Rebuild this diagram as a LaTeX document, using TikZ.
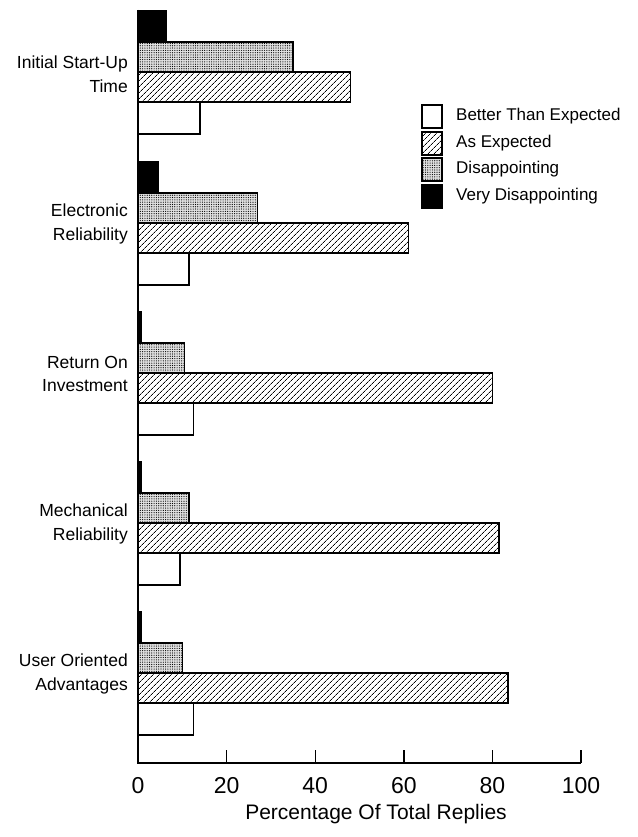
\documentclass[tikz,border=0pt]{standalone}
\usepackage{fontspec}
\setmainfont{Liberation Sans}
\usetikzlibrary{patterns.meta}
\tikzstyle{bar} = [draw, line width=1.3pt]
\tikzstyle{better} = [bar, fill=white]
\tikzstyle{asexp} = [bar, pattern={Lines[angle=45,distance=4pt,line width=0.8pt]}]
\tikzstyle{disap} = [bar, preaction={fill=black!12}, pattern={Dots[distance=2.3pt,radius=0.6pt]}]
\tikzstyle{verydis} = [bar, fill=black]
\tikzstyle{catlabel} = [anchor=east, align=right, inner sep=0pt, font=\fontsize{17.5}{23.5}\selectfont]
\tikzstyle{legtext} = [anchor=west, inner sep=0pt, font=\fontsize{17}{20}\selectfont]
\tikzstyle{ticklabel} = [inner sep=0pt, font=\fontsize{23}{26}\selectfont]

\begin{document}
\begin{tikzpicture}[x=1pt,y=-1pt]
	\useasboundingbox (0,0) rectangle (637,837);
	% bars, x in percent
	\begin{scope}[shift={(138,0)},x=4.43pt]
	\draw[verydis] (0,11) rectangle (6.5,42);
	\draw[disap] (0,42) rectangle (35,72);
	\draw[asexp] (0,72) rectangle (48,102);
	\draw[better] (0,102) rectangle (14,134);
	\draw[verydis] (0,162) rectangle (4.7,193);
	\draw[disap] (0,193) rectangle (27,223);
	\draw[asexp] (0,223) rectangle (61,253);
	\draw[better] (0,253) rectangle (11.5,285);
	\draw[verydis] (0,312) rectangle (0.8,343);
	\draw[disap] (0,343) rectangle (10.5,373);
	\draw[asexp] (0,373) rectangle (80,403);
	\draw[better] (0,403) rectangle (12.5,435);
	\draw[verydis] (0,462) rectangle (0.8,493);
	\draw[disap] (0,493) rectangle (11.5,523);
	\draw[asexp] (0,523) rectangle (81.5,553);
	\draw[better] (0,553) rectangle (9.5,585);
	\draw[verydis] (0,612) rectangle (0.8,643);
	\draw[disap] (0,643) rectangle (10,673);
	\draw[asexp] (0,673) rectangle (83.5,703);
	\draw[better] (0,703) rectangle (12.5,735);
	\end{scope}
	% axes
	\draw[line width=1.6pt] (138,10) -- (138,763) -- (581,763);
	\draw[line width=1.4pt] (226.6,763) -- ++(0,-13);
	\draw[line width=1.4pt] (315.2,763) -- ++(0,-13);
	\draw[line width=1.4pt] (403.8,763) -- ++(0,-13);
	\draw[line width=1.4pt] (492.4,763) -- ++(0,-13);
	\draw[line width=1.4pt] (581,763) -- ++(0,-13);
	\node[ticklabel] (t0) at (138,786) {0};
	\node[ticklabel] (t20) at (226.6,786) {20};
	\node[ticklabel] (t40) at (315.2,786) {40};
	\node[ticklabel] (t60) at (403.8,786) {60};
	\node[ticklabel] (t80) at (492.4,786) {80};
	\node[ticklabel] (t100) at (581,786) {100};
	\node[anchor=base, inner sep=0pt, font=\fontsize{21}{24}\selectfont] (xtitle) at (376,819) {Percentage Of Total Replies};
	% categories
	\node[catlabel] (initial) at (128,74) {Initial Start-Up\\Time};
	\node[catlabel] (electronic) at (128,224) {Electronic\\Reliability};
	\node[catlabel] (return) at (128,374) {Return On\\Investment};
	\node[catlabel] (mechanical) at (128,524) {Mechanical\\Reliability};
	\node[catlabel] (user) at (128,674) {User Oriented\\Advantages};
	% legend
	\draw[better] (422,105) rectangle (442,128);
	\draw[asexp] (422,132) rectangle (442,155);
	\draw[disap] (422,158) rectangle (442,181);
	\draw[verydis] (422,185) rectangle (442,208);
	\node[legtext] (lbetter) at (456,116.5) {Better Than Expected};
	\node[legtext] (lasexp) at (456,143.5) {As Expected};
	\node[legtext] (ldisap) at (456,169.5) {Disappointing};
	\node[legtext] (lverydis) at (456,196.5) {Very Disappointing};
\end{tikzpicture}
\end{document}
